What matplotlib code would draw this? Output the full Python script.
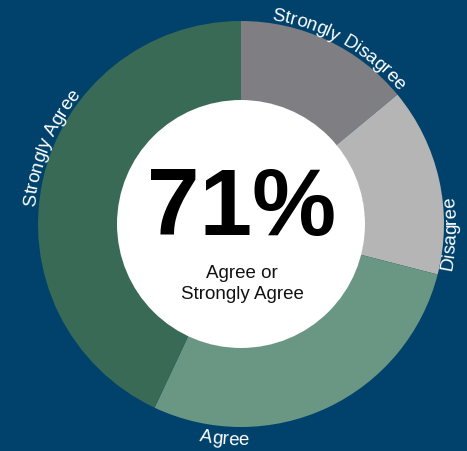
import numpy as np
import matplotlib
matplotlib.use("Agg")
from matplotlib import pyplot as plt
from matplotlib.patches import Circle
from matplotlib.font_manager import FontProperties

# survey answers, in the order they go round the ring (clockwise from 12 o'clock)
categories = ["Strongly Disagree", "Disagree", "Agree", "Strongly Agree"]
shares = [14, 15, 28, 43]
colors = ["#7f7f83", "#b4b5b4", "#6a9784", "#386a56"]
headline = "71%"
subtitle = ["Agree or", "Strongly Agree"]

bg = "#00426b"
W, H = 467, 452
cx, cy = 241, 227       # ring centre (pixels, y up)
r_out, r_in = 203, 123.5

fig = plt.figure(figsize=(W / 100, H / 100), dpi=100)
fig.patch.set_facecolor(bg)
ax = fig.add_axes([0, 0, 1, 1])
ax.set_facecolor(bg)

ax.pie(shares, colors=colors, startangle=90, counterclock=False,
       radius=r_out, center=(cx, cy), frame=False,
       wedgeprops=dict(width=r_out - r_in, edgecolor="none", linewidth=0))
ax.add_patch(Circle((cx, cy), r_in + 0.5, facecolor="white", edgecolor="none", zorder=3))

ax.set_xlim(0, W)
ax.set_ylim(0, H)
ax.set_aspect("equal")
ax.axis("off")

prop = FontProperties(family="Liberation Sans", size=13.5)
renderer = fig.canvas.get_renderer()


def text_w(s):
    w, h, d = renderer.get_text_width_height_descent(s, prop, ismath=False)
    return w


def curved(text, center_deg, r_base, tops_out=True):
    # center_deg: clockwise from 12 o'clock, like the pie
    theta0 = np.radians(90 - center_deg)
    total = text_w(text)
    sign = -1 if tops_out else 1
    for i, ch in enumerate(text):
        if ch == " ":
            continue
        mid = text_w(text[:i + 1]) - text_w(ch) / 2 - total / 2
        th = theta0 + sign * mid / r_base
        x = cx + r_base * np.cos(th)
        y = cy + r_base * np.sin(th)
        rot = np.degrees(th) - 90 if tops_out else np.degrees(th) + 90
        ax.text(x, y, ch, fontproperties=prop, color="white", rotation=rot,
                rotation_mode="anchor", ha="center", va="baseline", zorder=4)


curved(categories[0], 29, 207, tops_out=True)
curved(categories[1], 92.5, 215, tops_out=False)
curved(categories[2], 184.5, 220, tops_out=False)
curved(categories[3], 292, 207, tops_out=True)

ax.text(242, H - 235, headline, family="Liberation Sans", fontsize=68,
        fontweight="bold", color="black", ha="center", va="baseline", zorder=5)
ax.text(242, H - 278, subtitle[0], fontproperties=prop, color="#111111",
        ha="center", va="baseline", zorder=5)
ax.text(242, H - 299, subtitle[1], fontproperties=prop, color="#111111",
        ha="center", va="baseline", zorder=5)

fig.savefig("out.png", dpi=100, facecolor=bg)
